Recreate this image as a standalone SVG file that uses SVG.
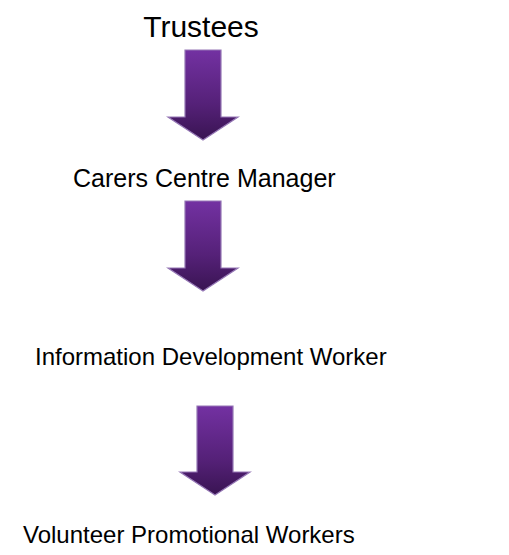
<svg xmlns="http://www.w3.org/2000/svg" width="509" height="555" viewBox="0 0 509 555">
  <style>
    .lbl { font-family: "Liberation Sans", Arial, sans-serif; font-size: 24px; fill: #000; }
    .arr { fill: url(#g); stroke: #9577b5; stroke-width: 1.2; }
  </style>
  <defs>
    <linearGradient id="g" x1="0" y1="0" x2="0" y2="1">
      <stop offset="0" stop-color="#7331a2"/>
      <stop offset="0.6" stop-color="#552178"/>
      <stop offset="1" stop-color="#391452"/>
    </linearGradient>
  </defs>
  <rect width="509" height="555" fill="#fff"/>
  <g id="connectors">
    <polygon class="arr" points="185,50 221,50 221,117 238,117 203,140 168,117 185,117"/>
    <polygon class="arr" points="185,201 221,201 221,268 238,268 203,291 168,268 185,268"/>
    <polygon class="arr" points="197,406 233,406 233,472 250,472 215,495 180,472 197,472"/>
  </g>
  <g id="trustees"><text class="lbl" x="201" y="37" text-anchor="middle" style="font-size:30px">Trustees</text></g>
  <g id="manager"><text class="lbl" x="73" y="187" style="font-size:25px">Carers Centre Manager</text></g>
  <g id="info-worker"><text class="lbl" x="35" y="365">Information Development Worker</text></g>
  <g id="volunteers"><text class="lbl" x="23" y="543">Volunteer Promotional Workers</text></g>
</svg>
